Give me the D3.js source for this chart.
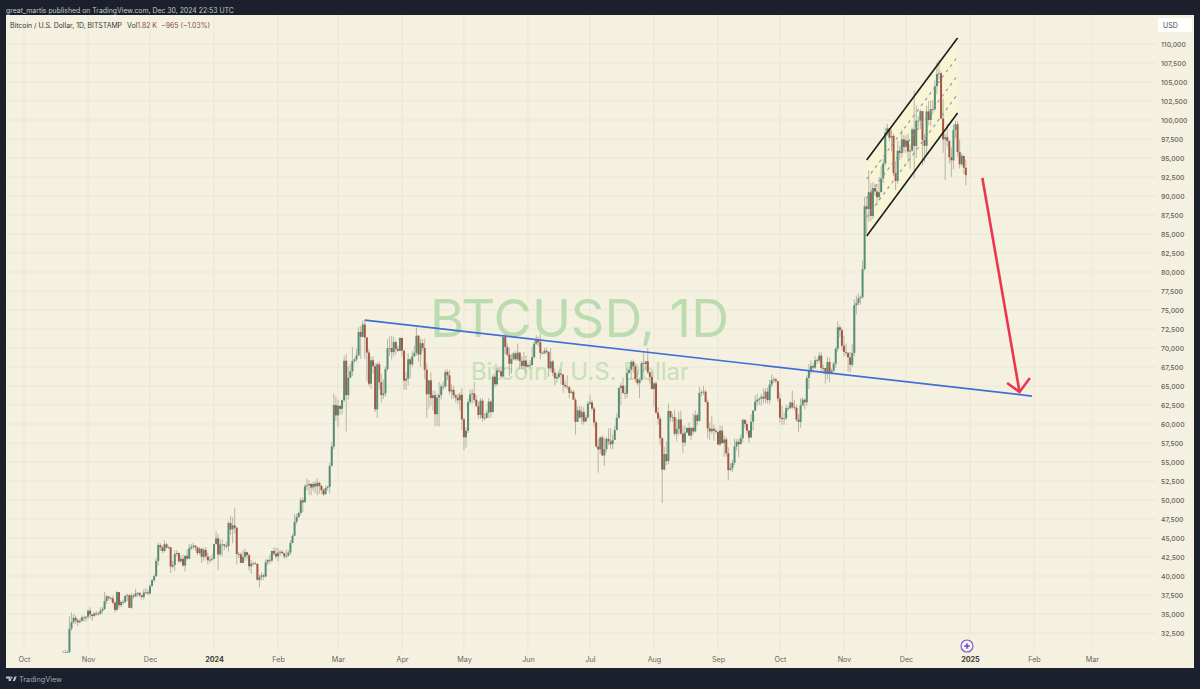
<!DOCTYPE html>
<html>
<head>
<meta charset="utf-8">
<title>BTCUSD, 1D</title>
<script src="https://cdn.jsdelivr.net/npm/d3@7/dist/d3.min.js"></script>
<style>
  html, body { margin: 0; padding: 0; background: #1b202c; }
  svg { display: block; font-family: Inter, "Liberation Sans", sans-serif; }
</style>
</head>
<body>
<svg id="chart" width="1200" height="689"></svg>
<script>
// Daily session values in thousands of USD, starting 20 Oct 2023, one row per month.
const firstSession = "2023-10-20";
const firstOpen = 29.7;
const closes = [
  29.68,29.92,29.99,33.08,33.92,34.50,34.16,33.90,34.09,34.53,34.50,34.65,
  35.43,34.94,34.73,35.08,35.05,35.04,35.43,35.65,36.70,37.31,37.13,37.06,36.49,35.54,37.88,36.16,36.59,36.58,37.38,37.47,35.81,37.42,37.29,37.72,37.79,37.46,37.24,37.83,37.85,37.72,
  38.69,39.46,39.97,41.99,44.08,43.77,43.29,44.18,43.72,43.79,41.24,41.45,42.89,43.02,41.94,42.26,41.37,42.66,42.27,43.65,43.86,43.99,43.74,43.02,43.59,42.52,43.44,42.58,42.07,42.14,42.28,
  44.18,44.95,42.84,44.15,44.16,43.97,43.93,46.97,46.12,46.66,46.34,42.89,42.85,41.73,42.51,43.14,42.74,41.27,41.62,41.66,41.58,39.50,39.88,40.08,39.93,41.80,42.12,42.03,43.30,42.94,42.58,
  43.08,43.19,42.99,42.58,42.66,43.09,44.34,45.29,47.13,47.75,48.29,49.95,49.70,51.80,51.95,52.12,51.65,52.13,51.78,52.26,51.85,51.30,50.74,51.57,51.73,54.48,57.05,62.50,61.13,
  62.39,61.99,63.13,68.33,63.80,66.10,66.93,68.30,68.50,69.02,72.10,71.47,73.08,71.39,69.40,65.30,68.39,67.60,61.93,67.85,65.50,63.80,64.03,67.23,69.96,69.99,69.45,70.78,69.89,69.64,71.33,
  69.65,65.71,65.97,68.51,67.84,68.90,69.36,71.62,69.14,70.63,70.01,67.15,63.92,65.74,63.42,63.79,61.28,63.47,63.82,64.94,64.95,66.84,66.41,64.29,64.50,63.77,63.46,63.12,63.84,60.61,
  58.25,59.12,62.89,63.89,64.03,63.17,62.33,61.19,63.07,60.79,60.82,61.48,62.94,61.58,66.22,65.23,67.05,66.94,66.27,71.45,70.14,69.12,67.93,68.54,69.29,68.51,69.39,68.30,67.63,68.35,67.54,
  67.76,67.75,68.80,70.57,71.08,70.76,69.35,69.31,69.65,69.50,67.32,68.24,66.75,66.01,66.19,66.64,66.49,65.15,64.96,64.85,64.10,64.25,63.20,60.28,61.80,60.86,61.60,60.32,60.89,62.67,
  62.85,62.03,60.20,57.04,56.66,58.23,55.86,56.70,58.04,57.72,57.34,57.90,59.20,60.80,64.72,65.04,64.09,63.99,66.69,67.15,68.18,67.57,65.93,65.37,65.78,68.00,67.90,68.25,66.80,66.20,64.62,
  65.35,61.50,60.70,58.12,53.99,56.04,55.12,61.71,60.88,60.92,58.71,59.35,60.60,58.74,57.56,58.87,59.48,58.48,59.49,59.02,61.16,60.38,64.09,64.18,64.25,62.88,59.42,59.03,59.37,59.12,58.97,
  57.30,59.13,57.48,57.97,56.16,53.95,54.16,54.88,57.05,57.65,57.34,58.13,60.54,60.00,59.13,58.21,60.31,61.76,62.95,63.20,63.35,63.58,63.34,64.26,63.14,65.18,65.78,65.88,65.63,63.33,
  60.81,60.65,60.75,62.08,62.08,62.82,62.22,62.13,60.58,60.28,62.45,63.20,62.85,66.05,67.04,67.62,67.42,68.39,68.36,69.00,67.37,67.36,66.64,68.16,66.64,67.01,67.93,69.91,72.72,72.34,70.29,
  69.49,69.37,68.77,67.80,69.36,75.64,75.90,76.54,76.68,80.37,88.65,88.29,90.49,87.37,91.05,90.60,89.85,90.49,92.31,94.29,98.35,98.90,97.67,97.90,93.01,91.98,95.96,95.65,97.45,96.45,
  97.30,95.86,96.00,98.77,96.59,99.91,99.92,101.17,97.37,96.60,101.13,100.00,101.43,101.42,104.46,106.05,106.14,100.20,97.46,97.75,97.22,95.10,94.69,98.68,99.43,95.80,94.17,95.29,93.72,92.75
];
const highs = [
  30.2,30.3,30.2,34.7,35.2,35.0,34.8,34.4,34.4,34.8,34.8,34.7,
  35.6,35.9,34.9,35.3,35.4,35.3,35.9,35.9,37.9,37.5,37.4,37.2,37.4,36.7,38.0,37.9,36.8,36.9,37.5,37.7,37.6,37.8,37.6,38.3,37.9,37.8,37.5,38.3,38.4,38.2,
  38.9,39.6,40.2,42.4,44.4,44.3,44.0,44.7,44.4,44.0,43.8,42.0,43.4,43.4,43.1,42.7,42.8,42.7,43.5,44.2,44.2,44.4,44.0,43.9,43.8,43.6,43.7,43.8,43.1,42.6,42.9,
  44.2,45.9,45.5,44.8,44.8,44.2,44.5,47.2,47.9,47.7,49.0,46.5,43.2,43.1,43.4,43.6,43.2,42.9,42.1,41.9,41.9,41.7,40.2,40.5,40.3,42.2,42.2,42.8,43.3,43.8,43.7,
  43.7,43.4,43.4,43.1,43.5,43.4,44.7,45.6,48.2,48.2,48.5,50.3,50.3,52.1,52.8,52.6,52.2,52.4,52.5,52.9,52.4,52.0,51.5,51.9,51.9,54.9,57.6,64.0,63.6,
  63.2,62.4,63.2,68.9,69.2,67.6,67.9,70.1,68.7,69.9,72.8,72.9,73.6,73.7,71.4,69.9,68.9,68.9,68.0,68.1,68.2,66.6,65.9,67.6,71.2,71.5,71.6,71.5,71.0,70.3,71.4,
  71.3,69.7,66.9,69.3,68.7,69.6,70.3,72.7,71.7,71.2,71.2,71.2,68.0,65.8,66.8,64.4,64.4,64.0,65.5,65.3,65.6,67.2,67.2,67.1,65.2,65.0,64.0,64.0,64.2,64.7,
  60.8,59.6,63.3,64.5,64.6,65.5,63.8,62.9,63.4,63.4,61.4,61.8,63.4,63.1,66.5,66.7,67.4,67.4,67.6,71.5,71.9,70.6,70.0,69.2,69.5,69.6,70.6,69.5,68.9,69.5,69.0,
  68.0,68.4,70.2,71.0,71.7,71.5,71.9,69.5,70.0,70.1,69.6,70.0,68.4,67.3,66.7,67.0,67.3,66.6,65.7,66.4,65.0,64.5,64.5,63.4,62.3,62.4,62.3,62.2,61.2,63.0,
  63.8,63.2,62.3,60.5,58.0,58.4,58.5,58.2,58.3,59.4,59.5,58.6,59.8,61.4,64.9,65.4,66.1,65.1,67.4,67.7,68.4,68.5,67.8,67.1,66.1,68.3,69.4,68.3,70.0,66.9,66.8,
  65.5,65.6,62.2,61.1,58.3,57.0,57.7,62.7,61.8,61.4,61.8,60.7,61.6,61.7,59.8,59.8,59.6,60.2,59.6,61.4,61.8,61.4,64.9,64.5,65.0,64.5,63.2,60.2,61.1,59.9,59.4,
  59.0,59.8,59.8,58.5,58.3,56.9,54.8,55.3,58.1,58.0,58.0,58.6,60.7,60.6,60.4,59.2,61.3,61.8,63.8,64.0,63.5,64.0,64.7,64.7,64.8,65.8,66.5,66.2,66.1,65.6,
  64.1,62.4,61.5,62.5,62.4,63.0,64.4,63.2,62.5,61.3,63.4,63.5,63.3,66.4,67.9,68.4,68.0,68.9,68.7,69.4,69.5,67.8,67.4,68.8,68.7,67.3,68.2,70.2,73.5,73.0,72.7,
  71.6,70.6,69.4,69.5,70.5,76.4,76.9,77.2,76.9,81.5,89.9,89.9,93.4,91.7,91.8,91.6,91.5,92.5,94.0,94.9,99.0,99.5,98.8,98.7,98.2,94.6,97.3,96.6,98.7,98.0,
  98.0,98.2,96.8,99.0,103.9,101.9,100.5,101.4,101.1,98.2,101.9,102.5,102.6,102.6,105.2,107.6,107.9,106.4,102.8,98.2,99.5,97.4,96.4,99.4,99.9,99.8,97.4,95.6,95.2,94.8
];
const lows = [
  29.5,29.6,29.6,29.9,32.8,33.7,33.7,33.4,33.8,34.0,34.0,34.0,
  34.3,34.4,34.1,34.6,34.8,34.8,34.9,35.1,35.5,36.3,36.8,36.8,36.3,35.2,35.4,35.7,35.9,36.2,36.4,36.7,35.8,35.7,37.0,37.6,37.3,37.2,36.9,36.9,37.6,37.5,
  37.5,38.6,39.2,39.9,41.4,43.3,43.0,43.1,43.6,43.5,40.4,41.0,40.7,42.6,41.7,41.7,41.2,40.6,42.1,42.2,43.4,43.5,43.3,42.7,42.8,41.7,42.0,42.3,41.5,41.7,41.9,
  42.2,44.2,40.8,42.6,42.6,43.4,43.6,43.2,45.4,44.3,45.6,41.5,42.4,41.7,41.7,42.0,42.2,40.7,40.3,41.4,41.5,39.4,38.5,39.4,39.5,39.8,41.4,41.6,41.8,42.7,42.3,
  41.9,42.6,42.9,42.3,42.3,42.6,42.8,44.3,45.5,46.8,47.6,48.0,48.4,49.7,51.3,50.7,50.6,51.2,50.9,50.6,50.8,50.8,50.5,50.9,51.3,50.9,54.4,56.7,60.4,
  59.6,61.2,61.3,62.9,59.0,63.2,66.0,66.3,68.0,68.2,69.0,68.6,71.4,68.6,65.6,65.0,64.6,66.6,61.6,60.8,64.6,62.8,63.3,63.6,67.0,69.0,68.5,68.9,69.1,69.5,69.6,
  68.9,64.5,64.5,65.1,66.0,67.5,68.9,69.0,68.2,67.5,69.6,65.9,60.8,62.0,62.4,61.7,59.7,59.7,59.7,63.2,64.5,64.7,65.8,63.9,63.3,63.3,62.8,62.6,61.8,59.2,
  56.6,56.9,58.8,62.6,62.7,62.8,62.3,60.7,60.7,60.3,60.5,60.7,60.8,60.8,61.4,64.8,65.0,66.7,65.9,66.2,69.2,68.9,66.3,66.6,68.4,68.3,68.3,67.2,67.2,67.2,66.7,
  67.4,67.2,67.7,68.6,70.4,70.2,68.5,69.2,69.2,69.2,66.2,66.9,66.3,65.1,65.9,66.0,65.2,64.1,64.7,64.5,63.4,64.0,63.2,58.6,60.3,60.7,60.0,59.9,60.3,60.7,
  62.5,61.8,59.6,56.9,53.6,56.1,55.8,54.5,56.3,57.2,56.7,56.7,57.9,59.7,60.7,62.5,63.9,63.3,63.4,66.7,65.9,66.7,65.5,65.1,63.4,65.7,66.8,67.1,66.6,65.3,64.5,
  62.3,61.3,59.9,57.2,49.6,53.9,54.6,54.7,60.3,60.3,58.4,57.7,58.5,58.6,56.2,57.1,58.8,58.4,57.9,58.6,58.9,59.8,60.4,63.6,63.8,62.8,58.1,57.9,58.7,57.8,58.7,
  57.2,57.1,57.4,55.7,55.7,52.6,53.8,53.7,54.6,56.5,55.6,57.4,57.6,59.5,58.7,57.5,58.4,59.2,61.7,62.4,62.5,62.4,62.7,62.7,62.7,62.6,64.8,65.4,65.4,62.9,
  60.2,59.9,59.9,60.5,61.7,62.0,62.0,61.8,60.3,58.9,59.5,62.4,61.9,62.4,64.6,66.5,66.8,67.2,67.9,68.1,66.7,66.6,65.3,65.9,65.5,66.5,66.9,67.4,69.5,71.4,69.7,
  68.9,68.9,66.9,66.8,67.5,68.9,74.4,75.6,75.7,76.5,80.2,85.0,86.6,86.7,87.0,90.0,88.8,89.5,90.8,91.7,94.0,97.9,97.2,95.9,92.6,90.8,91.6,94.7,95.0,95.7,
  95.7,94.5,93.6,95.8,92.3,95.0,99.0,98.8,94.0,94.4,95.4,99.3,99.3,100.8,101.2,103.4,105.3,100.1,95.7,92.1,96.5,94.3,92.5,93.5,97.6,95.2,93.6,94.0,92.9,91.4
];

// Price axis labels (thousands of USD) and month labels
const priceTicks = [32.5,35,37.5,40,42.5,45,47.5,50,52.5,55,57.5,60,62.5,65,67.5,70,72.5,75,77.5,80,82.5,85,87.5,90,92.5,95,97.5,100,102.5,105,107.5,110];
const monthTicks = ["2023-10-01","2023-11-01","2023-12-01","2024-01-01","2024-02-01","2024-03-01","2024-04-01","2024-05-01","2024-06-01","2024-07-01","2024-08-01","2024-09-01","2024-10-01","2024-11-01","2024-12-01","2025-01-01","2025-02-01","2025-03-01"];

// Drawn annotations: [date, price in thousands]
const trendLine = [["2024-03-14",73.68],["2025-01-31",63.68]];
const channelUpper = [["2024-11-12",94.74],["2024-12-26",110.79]];
const channelLower = [["2024-11-12",84.74],["2024-12-26",100.92]];
const channelLevels = [0.25,0.5,0.75];
const arrowShaft = [["2025-01-07",92.37],["2025-01-25",64.21]];
const arrowHead = [["2025-01-19",65.4],["2025-01-25",64.21],["2025-01-30",66.05]];

const parse = d3.utcParse("%Y-%m-%d");
const panel = {left: 6, top: 15, right: 1194, bottom: 668, plotRight: 1156, plotBottom: 653};

const x = d3.scaleUtc().domain([parse("2023-10-01"), parse("2025-02-01")]).range([24, 1034]);
const y = d3.scaleLinear().domain([110, 30]).range([44, 652]);

const svg = d3.select("#chart");
const at = p => [x(parse(p[0])), y(p[1])];
const line = d3.line();

svg.append("text").attr("x", 6).attr("y", 12.5).attr("font-size", 6.9).attr("fill", "#c4c7ce")
  .text("great_martis published on TradingView.com, Dec 30, 2024 22:53 UTC");

svg.append("rect").attr("x", panel.left).attr("y", panel.top)
  .attr("width", panel.right - panel.left).attr("height", panel.bottom - panel.top)
  .attr("fill", "#f5f1e0");

svg.append("defs").append("clipPath").attr("id", "plot").append("rect")
  .attr("x", panel.left).attr("y", panel.top)
  .attr("width", panel.plotRight - panel.left).attr("height", panel.plotBottom - panel.top);

// Grid
const grid = svg.append("g").attr("stroke", "#ebe6d3").attr("stroke-width", 1);
grid.selectAll("line.h").data(priceTicks).join("line").attr("class", "h")
  .attr("x1", panel.left).attr("x2", panel.plotRight).attr("y1", d => y(d)).attr("y2", d => y(d));
grid.selectAll("line.v").data(monthTicks).join("line").attr("class", "v")
  .attr("x1", d => x(parse(d))).attr("x2", d => x(parse(d))).attr("y1", panel.top).attr("y2", panel.plotBottom);

// Watermark
svg.append("text").attr("x", 579.5).attr("y", 337).attr("text-anchor", "middle")
  .attr("font-size", 52.4).attr("fill", "#bcdcb0").text("BTCUSD, 1D");
svg.append("text").attr("x", 580).attr("y", 380).attr("text-anchor", "middle")
  .attr("font-size", 24).attr("fill", "#c6e0b8").text("Bitcoin / U.S. Dollar");

// Price axis
const yAxis = svg.append("g").attr("transform", `translate(${panel.plotRight},0)`)
  .call(d3.axisRight(y).tickValues(priceTicks).tickSize(0).tickPadding(5)
    .tickFormat(d => d3.format(",")(d * 1000)));
yAxis.select(".domain").remove();
yAxis.selectAll("text").attr("font-family", "Inter, sans-serif").attr("font-size", 6.8)
  .attr("font-weight", 500).attr("fill", "#66655c");

// Time axis
const xAxis = svg.append("g").attr("transform", `translate(0,${panel.plotBottom})`)
  .call(d3.axisBottom(x).tickValues(monthTicks.map(parse)).tickSize(0).tickPadding(4)
    .tickFormat(d => d.getUTCMonth() === 0 ? d3.utcFormat("%Y")(d) : d3.utcFormat("%b")(d)));
xAxis.select(".domain").remove();
xAxis.selectAll("text").attr("font-family", "Inter, sans-serif").attr("font-size", 7.2)
  .attr("font-weight", d => d.getUTCMonth() === 0 ? 700 : 400)
  .attr("fill", d => d.getUTCMonth() === 0 ? "#3d3c36" : "#66655c");

// Channel fill sits under the candles
svg.append("path")
  .attr("d", line([...channelUpper.map(at), ...channelLower.map(at).reverse()]) + "Z")
  .attr("fill", "#f8f4d4");

// Candles
const t0 = parse(firstSession);
const candles = closes.map((c, i) => ({
  date: d3.utcDay.offset(t0, i),
  open: i ? closes[i - 1] : firstOpen,
  close: c, high: highs[i], low: lows[i]
}));
const plot = svg.append("g").attr("clip-path", "url(#plot)");
plot.append("g").selectAll("line").data(candles).join("line")
  .attr("x1", d => x(d.date)).attr("x2", d => x(d.date))
  .attr("y1", d => y(d.high)).attr("y2", d => y(d.low))
  .attr("stroke", "#b0aea2").attr("stroke-width", 0.9);
plot.append("g").selectAll("rect").data(candles).join("rect")
  .attr("x", d => x(d.date) - 1).attr("width", 2)
  .attr("y", d => y(Math.max(d.open, d.close)))
  .attr("height", d => Math.max(0.8, Math.abs(y(d.open) - y(d.close))))
  .attr("fill", d => d.close >= d.open ? "#548f74" : "#a55744");

// Channel lines
const lerp = (a, b, t) => {
  const pa = at(a), pb = at(b);
  return [pa[0] + (pb[0] - pa[0]) * t, pa[1] + (pb[1] - pa[1]) * t];
};
channelLevels.forEach(t => {
  svg.append("path")
    .attr("d", line([lerp(channelLower[0], channelUpper[0], t), lerp(channelLower[1], channelUpper[1], t)]))
    .attr("fill", "none").attr("stroke", "#8296bd").attr("stroke-width", 1.1).attr("stroke-dasharray", "3 4");
});
[channelUpper, channelLower].forEach(seg => {
  svg.append("path").attr("d", line(seg.map(at))).attr("fill", "none")
    .attr("stroke", "#1e1c18").attr("stroke-width", 1.6);
});

// Trend line and arrow
svg.append("path").attr("d", line(trendLine.map(at))).attr("fill", "none")
  .attr("stroke", "#3f70d6").attr("stroke-width", 1.7);
[arrowShaft, arrowHead].forEach(seg => {
  svg.append("path").attr("d", line(seg.map(at))).attr("fill", "none")
    .attr("stroke", "#ee3550").attr("stroke-width", 2.6).attr("stroke-linejoin", "miter");
});

// Legend row
const legend = svg.append("text").attr("x", 10).attr("y", 28).attr("font-size", 6.9).attr("fill", "#3a3a38");
legend.append("tspan").text("Bitcoin / U.S. Dollar, 1D, BITSTAMP");
legend.append("tspan").attr("dx", 5).text("Vol");
legend.append("tspan").attr("fill", "#8a4a3e").text("1.82 K");
legend.append("tspan").attr("dx", 5).attr("fill", "#8a4a3e").text("\u2212965 (\u22121.03%)");

// Currency tag
svg.append("rect").attr("x", 1158).attr("y", 18).attr("width", 34).attr("height", 14).attr("rx", 2).attr("fill", "#ffffff");
svg.append("text").attr("x", 1163).attr("y", 27.5).attr("font-size", 7).attr("fill", "#4a4a48").text("USD");

// Timeline marker
const marker = svg.append("g").attr("transform", "translate(967,646)");
marker.append("circle").attr("r", 6).attr("fill", "#f7f4ea").attr("stroke", "#7c4ddb").attr("stroke-width", 1.1);
marker.append("path").attr("d", "M-2.8,0H2.8M0,-2.8V2.8").attr("stroke", "#6a3fd0").attr("stroke-width", 1.4);

// Footer brand
svg.append("path").attr("d", "M6,676.5h5v4.5h-2.4v-2.5H6zM12.6,681l2-4.5h2.2l-2,4.5z M11.4,676.5a1.1,1.1 0 1 0 0.01,0")
  .attr("fill", "#c0c3ca");
svg.append("text").attr("x", 19).attr("y", 682).attr("font-size", 7.3).attr("fill", "#a5a8b0").text("TradingView");
</script>
</body>
</html>
